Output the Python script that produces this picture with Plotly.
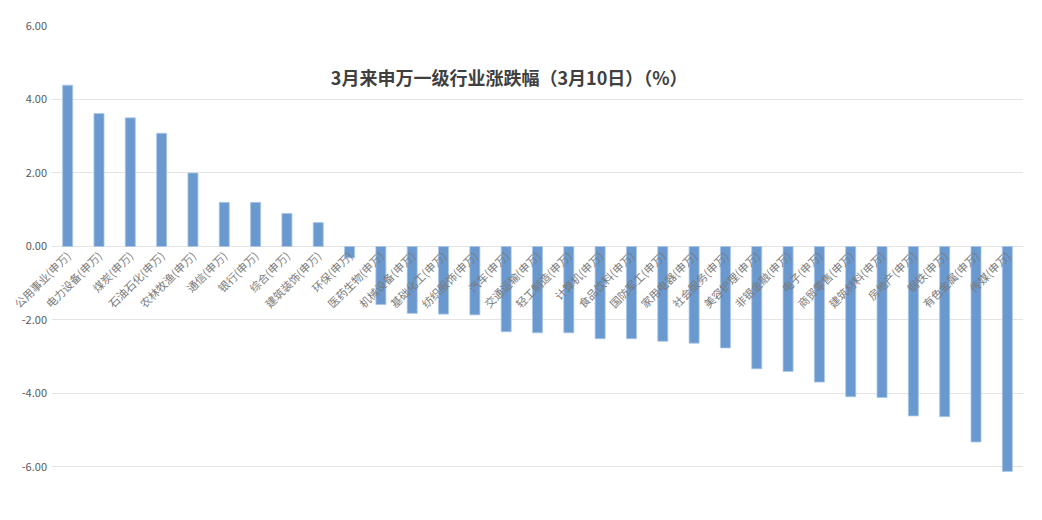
import plotly.graph_objects as go

industries = ["公用事业", "电力设备", "煤炭", "石油石化", "农林牧渔", "通信", "银行", "综合",
              "建筑装饰", "环保", "医药生物", "机械设备", "基础化工", "纺织服饰", "汽车",
              "交通运输", "轻工制造", "计算机", "食品饮料", "国防军工", "家用电器", "社会服务",
              "美容护理", "非银金融", "电子", "商贸零售", "建筑材料", "房地产", "钢铁",
              "有色金属", "传媒"]
changes = [4.39, 3.62, 3.50, 3.08, 2.00, 1.20, 1.20, 0.90, 0.65, -0.31, -1.58, -1.82,
           -1.84, -1.86, -2.32, -2.35, -2.35, -2.51, -2.51, -2.58, -2.63, -2.76, -3.33,
           -3.40, -3.69, -4.09, -4.11, -4.61, -4.63, -5.32, -6.12]
labels = [name + "(申万)" for name in industries]
y_ticks = [-6, -4, -2, 0, 2, 4, 6]

y_min, y_max = -6.3, 6.0
# put the category axis on the zero line, like the Excel original
zero_pos = (0 - y_min) / (y_max - y_min)

fig = go.Figure()
fig.add_trace(go.Bar(x=labels, y=changes,
                     marker=dict(color="#6999CF", line=dict(color="#A9C6E8", width=0.8))))

fig.update_layout(
    width=1042, height=520,
    margin=dict(l=44, r=27, t=18, b=50),
    paper_bgcolor="white", plot_bgcolor="white",
    font=dict(family="Noto Sans CJK SC", size=11, color="#7a7a7a"),
    bargap=0.68,
    showlegend=False,
    title=dict(text="<b>3月来申万一级行业涨跌幅（3月10日）（%）</b>",
               x=0.481, xanchor="center", y=0.865, yanchor="middle",
               font=dict(family="Noto Sans CJK SC", size=18, color="#404040")),
)
fig.update_xaxes(anchor="free", position=zero_pos, tickangle=-45, showline=False,
                 showgrid=False, ticks="", automargin=False,
                 tickfont=dict(size=11, color="#7a7a7a"))
fig.update_yaxes(range=[y_min, y_max], tickvals=y_ticks,
                 ticktext=["%.2f" % v for v in y_ticks], automargin=False,
                 ticklabelstandoff=4,
                 showgrid=True, gridcolor="#E4E4E4", gridwidth=1,
                 zeroline=True, zerolinecolor="#E4E4E4", zerolinewidth=1,
                 tickfont=dict(size=11, color="#595959"))

fig.write_html("out.html")
